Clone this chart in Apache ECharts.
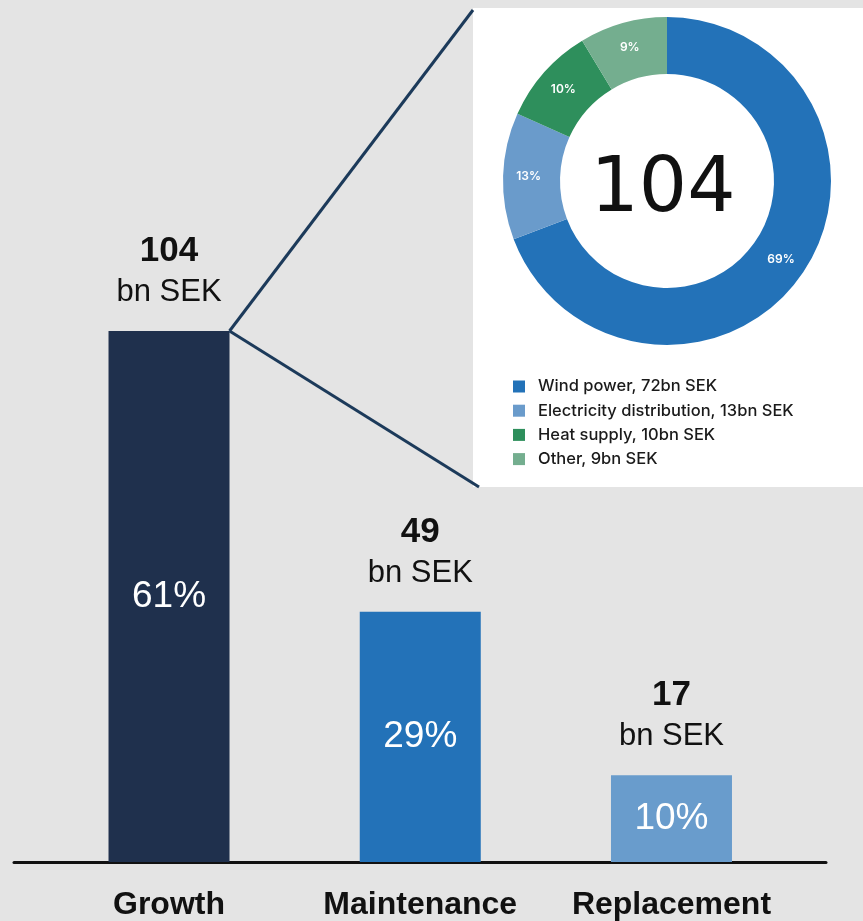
<!DOCTYPE html>
<html>
<head>
<meta charset="utf-8">
<title>Investments bn SEK</title>
<script src="https://cdn.jsdelivr.net/npm/echarts@6/dist/echarts.min.js"></script>
<style>
  html, body { margin: 0; padding: 0; background: #e4e4e4; }
  #chart { width: 863px; height: 921px; }
</style>
</head>
<body>
<div id="chart"></div>
<script>
// investment split, bn SEK
var categories = ['Growth', 'Maintenance', 'Replacement'];
var amounts = [104, 49, 17];
var barColors = ['#1f304d', '#2372b8', '#699ccc'];

// breakdown of the growth bar
var growthParts = ['Wind power', 'Electricity distribution', 'Heat supply', 'Other'];
var growthAmounts = [72, 13, 10, 9];
var partColors = ['#2372b8', '#6a9bcb', '#2e8f5c', '#74ae8f'];

var sum = function (arr) { return arr.reduce(function (a, b) { return a + b }, 0) }
var total = sum(amounts);
var growthTotal = sum(growthAmounts);

var barWidth = 121;
var panel = { x: 473, y: 8, w: 390, h: 479 };
var arial = '"Liberation Sans", Arial, sans-serif';
var geo = 'Inter, "Open Sans", sans-serif';

var chart = echarts.init(document.getElementById('chart'));

chart.setOption({
  backgroundColor: '#e4e4e4',
  animation: false,
  grid: [
    { left: 43.4, right: 65.9, top: 331, bottom: 59 },
    // only used for the long baseline under the bars
    { left: 14, right: 37, top: 331, bottom: 59 }
  ],
  xAxis: [
    {
      type: 'category',
      gridIndex: 0,
      data: categories,
      axisLine: { show: false },
      axisTick: { show: false },
      axisLabel: {
        interval: 0,
        margin: 27,
        fontFamily: arial,
        fontSize: 32,
        fontWeight: 'bold',
        color: '#111'
      }
    },
    {
      type: 'value',
      gridIndex: 1,
      min: 0,
      max: 1,
      axisLine: { show: true, lineStyle: { color: '#111', width: 3 } },
      axisTick: { show: false },
      axisLabel: { show: false },
      splitLine: { show: false }
    }
  ],
  yAxis: [
    { type: 'value', gridIndex: 0, min: 0, max: amounts[0], show: false },
    { type: 'value', gridIndex: 1, min: 0, max: 1, show: false }
  ],
  legend: {
    orient: 'vertical',
    left: 508,
    top: 373,
    icon: 'rect',
    itemWidth: 12,
    itemHeight: 12,
    itemGap: 7.2,
    selectedMode: false,
    data: growthParts,
    formatter: function (name) {
      return name + ', ' + growthAmounts[growthParts.indexOf(name)] + 'bn SEK';
    },
    textStyle: {
      fontFamily: geo,
      fontSize: 16.5,
      fontWeight: 500,
      lineHeight: 14,
      color: '#1a1a1a',
      padding: [0, 0, 0, 8]
    }
  },
  series: [
    {
      type: 'bar',
      xAxisIndex: 0,
      yAxisIndex: 0,
      barWidth: barWidth,
      data: amounts.map(function (v, i) {
        return { value: v, itemStyle: { color: barColors[i] } };
      }),
      label: {
        show: true,
        position: 'inside',
        fontFamily: arial,
        fontSize: 37,
        color: '#fff',
        formatter: function (p) { return Math.round(p.value / total * 100) + '%'; }
      }
    },
    {
      type: 'bar',
      xAxisIndex: 0,
      yAxisIndex: 0,
      barWidth: barWidth,
      barGap: '-100%',
      silent: true,
      itemStyle: { color: 'rgba(0,0,0,0)' },
      data: amounts,
      label: {
        show: true,
        position: 'top',
        distance: 18,
        formatter: function (p) { return '{v|' + p.value + '}\n{u|bn SEK}'; },
        rich: {
          v: { fontFamily: arial, fontSize: 35, fontWeight: 'bold', color: '#111', lineHeight: 41 },
          u: { fontFamily: arial, fontSize: 31, color: '#111', lineHeight: 41 }
        }
      }
    },
    {
      type: 'pie',
      z: 3,
      center: [667, 181],
      radius: [107, 164],
      startAngle: 90,
      clockwise: true,
      silent: true,
      data: growthParts.map(function (n, i) {
        return { name: n, value: growthAmounts[i], itemStyle: { color: partColors[i] } };
      }),
      label: {
        show: true,
        position: 'inside',
        fontFamily: geo,
        fontSize: 12,
        fontWeight: 600,
        color: '#fff',
        formatter: function (p) { return Math.round(p.percent) + '%'; }
      },
      labelLine: { show: false }
    }
  ]
});

// zoom lines from the growth bar to the breakdown panel
var barTop = chart.convertToPixel({ xAxisIndex: 0, yAxisIndex: 0 }, [categories[0], amounts[0]]);
var sx = barTop[0] + barWidth / 2;
var sy = barTop[1];

chart.setOption({
  graphic: [
    {
      type: 'rect',
      z: 1,
      shape: { x: panel.x, y: panel.y, width: panel.w, height: panel.h },
      style: { fill: '#fff' }
    },
    {
      type: 'line',
      z: 10,
      shape: { x1: sx, y1: sy, x2: panel.x, y2: panel.y + 2 },
      style: { stroke: '#1c3a5a', lineWidth: 3 }
    },
    {
      type: 'line',
      z: 10,
      shape: { x1: sx, y1: sy, x2: panel.x + 6, y2: panel.y + panel.h },
      style: { stroke: '#1c3a5a', lineWidth: 3 }
    },
    {
      type: 'text',
      z: 10,
      x: 663,
      y: 191,
      style: {
        text: String(growthTotal),
        align: 'center',
        verticalAlign: 'middle',
        fontFamily: '"DejaVu Sans", sans-serif',
        fontSize: 76,
        fontWeight: 'normal',
        fill: '#111'
      }
    }
  ]
});
</script>
</body>
</html>
